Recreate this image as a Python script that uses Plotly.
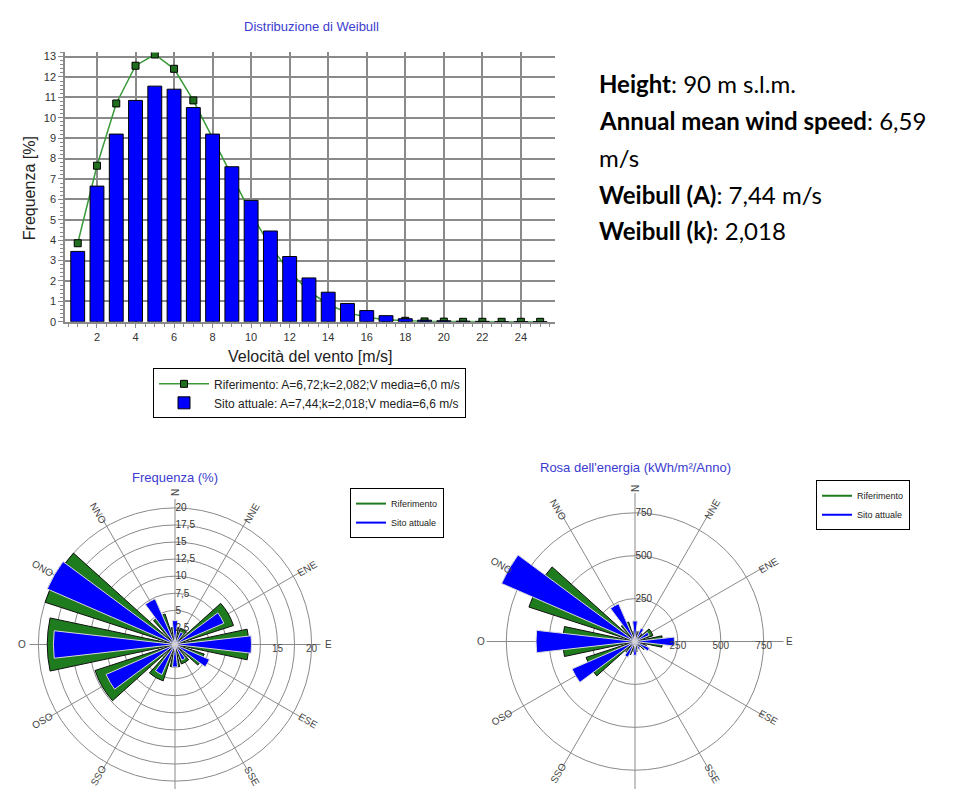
import math
import plotly.graph_objects as go

W, H = 975, 789

# ---------------- data ----------------
speed = list(range(1, 26))
speed_ticks = [2, 4, 6, 8, 10, 12, 14, 16, 18, 20, 22, 24]
freq_ticks_y = list(range(0, 14))
site_freq = [3.45, 6.65, 9.2, 10.85, 11.55, 11.4, 10.5, 9.2, 7.6, 5.95, 4.45, 3.2,
             2.15, 1.45, 0.9, 0.55, 0.3, 0.15, 0.08, 0.05, 0.03, 0.02, 0.01, 0.01, 0.01]
ref_freq = [3.85, 7.65, 10.7, 12.55, 13.1, 12.4, 10.85, 9.0, 7.1, 5.3, 3.7, 2.45,
            1.5, 0.85, 0.45, 0.22, 0.1, 0.05, 0.02, 0.01, 0.0, 0.0, 0.0, 0.0, 0.0]

directions = ["N", "NNE", "ENE", "E", "ESE", "SSE", "S", "SSO", "OSO", "O", "ONO", "NNO"]
dir_angles = [0, 30, 60, 90, 120, 150, 180, 210, 240, 270, 300, 330]
rose_freq_ref = [2.5, 2.5, 9.0, 10.8, 4.5, 3.0, 3.3, 5.6, 12.3, 18.7, 20.0, 4.7]
rose_freq_site = [3.5, 2.0, 7.8, 11.2, 5.5, 2.5, 3.3, 4.8, 11.0, 17.8, 20.4, 7.3]
rose_energy_ref = [60, 60, 110, 160, 70, 40, 60, 80, 300, 420, 650, 120]
rose_energy_site = [120, 85, 90, 230, 92, 50, 80, 100, 400, 577, 848, 240]
freq_rings = [2.5, 5, 7.5, 10, 12.5, 15, 17.5, 20]
freq_east_labels = [15, 20]
energy_rings = [250, 500, 750]

ref_label = "Riferimento: A=6,72;k=2,082;V media=6,0 m/s"
site_label = "Sito attuale: A=7,44;k=2,018;V media=6,6 m/s"

GREEN_LINE = "#3a9a3a"
GREEN_MARK = "#1f6f1f"
GREEN_BAR = "#1e7b1e"
BLUE = "#0000ff"
GRID = "#8a8a8a"
TITLE_BLUE = "#3b3bd0"


def px(x):
    return x / W


def py(y):
    return 1 - y / H


fig = go.Figure()

# ---------------- Weibull bar chart ----------------
fig.add_trace(go.Scatter(
    x=speed, y=ref_freq, mode="lines+markers", name=ref_label,
    line=dict(color=GREEN_LINE, width=1.5),
    marker=dict(symbol="square", size=7, color=GREEN_MARK, line=dict(color="#000", width=1)),
    xaxis="x", yaxis="y", legend="legend", hoverinfo="skip"))
fig.add_trace(go.Bar(
    x=speed, y=site_freq, name=site_label, width=0.72,
    marker=dict(color=BLUE, line=dict(color="#000", width=1)),
    xaxis="x2", yaxis="y2", legend="legend", hoverinfo="skip"))

x_dom = [px(57), px(547)]
y_dom = [py(315), py(42.9)]
x_rng = [0.34, 25.77]
y_rng = [0, 13.2]

# ---------------- wind roses ----------------
fc = (167, 641)
fhalf = 147
ec = (627, 638)
ehalf = 150
freq_max = 20 * fhalf / 138.0
energy_max = 750 * ehalf / 130.0

for sub, ref_vals, site_vals, leg in [
        ("polar", rose_freq_ref, rose_freq_site, "legend2"),
        ("polar2", rose_energy_ref, rose_energy_site, "legend3")]:
    fig.add_trace(go.Barpolar(
        r=ref_vals, theta=dir_angles, width=24, subplot=sub, showlegend=False,
        marker=dict(color=GREEN_BAR, line=dict(color="#101010", width=1)),
        hoverinfo="skip"))
    fig.add_trace(go.Barpolar(
        r=site_vals, theta=dir_angles, width=13, subplot=sub, showlegend=False,
        marker=dict(color=BLUE, line=dict(color="#d8d8d8", width=1)),
        hoverinfo="skip"))
    fig.add_trace(go.Scatterpolar(
        r=[None], theta=[None], mode="lines", name="Riferimento", subplot=sub,
        line=dict(color=GREEN_BAR, width=2), legend=leg))
    fig.add_trace(go.Scatterpolar(
        r=[None], theta=[None], mode="lines", name="Sito attuale", subplot=sub,
        line=dict(color=BLUE, width=2), legend=leg))

# east-axis ring labels
fig.add_trace(go.Scatterpolar(
    r=freq_east_labels, theta=[90] * len(freq_east_labels), mode="text",
    text=[str(v) for v in freq_east_labels], textposition="bottom center",
    textfont=dict(size=10, color="#444", family="Arial"), subplot="polar",
    showlegend=False, hoverinfo="skip"))
fig.add_trace(go.Scatterpolar(
    r=energy_rings, theta=[90] * len(energy_rings), mode="text",
    text=[str(v) for v in energy_rings], textposition="bottom center",
    textfont=dict(size=10, color="#444", family="Arial"), subplot="polar2",
    showlegend=False, hoverinfo="skip"))


def polar_layout(center, half, rmax, rings):
    cx, cy = center
    return dict(
        domain=dict(x=[px(cx - half), px(cx + half)], y=[max(0, py(cy + half)), py(cy - half)]),
        bgcolor="white",
        barmode="overlay",
        radialaxis=dict(range=[0, rmax], tickvals=rings, showline=False, ticks="",
                        angle=90, tickangle=90, side="clockwise",
                        gridcolor=GRID, gridwidth=1, layer="above traces",
                        tickfont=dict(size=10, color="#333", family="Arial")),
        angularaxis=dict(direction="clockwise", rotation=90, tickmode="array",
                         tickvals=dir_angles, showticklabels=False, ticks="",
                         showline=False, gridcolor=GRID, gridwidth=1,
                         layer="above traces"),
    )


annotations = []


def compass(center, rlab):
    cx, cy = center
    for name, ang in zip(directions, dir_angles):
        t = math.radians(ang)
        x = cx + rlab * math.sin(t)
        y = cy - rlab * math.cos(t)
        ta = ang - 90 if ang <= 180 else ang - 270
        annotations.append(dict(x=px(x), y=py(y), xref="paper", yref="paper",
                                text=name, showarrow=False, textangle=ta,
                                xanchor="center", yanchor="middle",
                                font=dict(size=10, color="#444", family="Arial")))


compass(fc, 153)
compass(ec, 154)

# titles
annotations += [
    dict(x=px(303), y=py(17), text="Distribuzione di Weibull",
         font=dict(size=13, color=TITLE_BLUE, family="Arial")),
    dict(x=px(167), y=py(472), text="Frequenza (%)",
         font=dict(size=13, color=TITLE_BLUE, family="Arial")),
    dict(x=px(627), y=py(462), text="Rosa dell'energia (kWh/m²/Anno)",
         font=dict(size=13, color=TITLE_BLUE, family="Arial")),
    dict(x=px(302), y=py(350), text="Velocità del vento [m/s]",
         font=dict(size=16, color="#222", family="Arial")),
    dict(x=px(21), y=py(180), text="Frequenza [%]", textangle=-90,
         font=dict(size=16, color="#222", family="Arial")),
]
for a in annotations[-5:]:
    a.update(xref="paper", yref="paper", showarrow=False, xanchor="center", yanchor="middle")

info_lines = [
    ("<b>Height</b>: 90 m s.l.m.", 74),
    ("<b>Annual mean wind speed</b>: 6,59", 112),
    ("m/s", 149),
    ("<b>Weibull (A)</b>: 7,44 m/s", 186),
    ("<b>Weibull (k)</b>: 2,018", 223),
]
for txt, yy in info_lines:
    annotations.append(dict(x=px(589), y=py(yy), xref="paper", yref="paper", text=txt,
                            showarrow=False, xanchor="left", yanchor="middle",
                            font=dict(size=24, color="#000", family="Lato")))

fig.update_layout(
    width=W, height=H,
    margin=dict(l=0, r=0, t=0, b=0),
    paper_bgcolor="white", plot_bgcolor="white",
    separators=",.",
    font=dict(family="Arial", color="#333"),
    xaxis=dict(domain=x_dom, range=x_rng, tickmode="array", tickvals=speed_ticks,
               showgrid=True, gridcolor=GRID, gridwidth=1.6, zeroline=False,
               showline=True, linecolor=GRID, linewidth=1.5,
               ticks="outside", ticklen=4, tickcolor=GRID,
               minor=dict(dtick=0.5, tick0=0, ticks="outside", ticklen=3, tickcolor=GRID, showgrid=False),
               tickfont=dict(size=11, color="#333")),
    yaxis=dict(domain=y_dom, range=y_rng, tickmode="array", tickvals=freq_ticks_y,
               showgrid=True, gridcolor=GRID, gridwidth=1.6, zeroline=False,
               showline=True, linecolor=GRID, linewidth=1.5,
               ticks="outside", ticklen=5, tickcolor=GRID,
               minor=dict(dtick=0.2, tick0=0, ticks="outside", ticklen=3, tickcolor=GRID, showgrid=False),
               tickfont=dict(size=11, color="#333")),
    xaxis2=dict(overlaying="x", matches="x", visible=False, range=x_rng),
    yaxis2=dict(overlaying="y", matches="y", visible=False, range=y_rng),
    polar=polar_layout(fc, fhalf, freq_max, freq_rings),
    polar2=polar_layout(ec, ehalf, energy_max, energy_rings),
    legend=dict(x=px(145), y=py(362), xanchor="left", yanchor="top",
                bordercolor="#000", borderwidth=1, bgcolor="white",
                font=dict(size=12, color="#222", family="Arial"), itemwidth=50,
                tracegroupgap=0),
    legend2=dict(x=px(342), y=py(483), xanchor="left", yanchor="top",
                 bordercolor="#000", borderwidth=1, bgcolor="white",
                 font=dict(size=9, color="#222", family="Arial"), itemwidth=30),
    legend3=dict(x=px(808), y=py(475), xanchor="left", yanchor="top",
                 bordercolor="#000", borderwidth=1, bgcolor="white",
                 font=dict(size=9, color="#222", family="Arial"), itemwidth=30),
    annotations=annotations,
    showlegend=True,
)

fig.write_html("out.html")
